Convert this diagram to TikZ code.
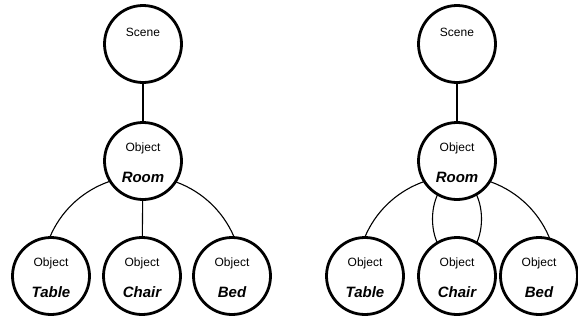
\documentclass[tikz,border=0pt]{standalone}
\usepackage{fontspec}
\setmainfont{Liberation Sans}
\begin{document}
\begin{tikzpicture}[x=1pt,y=-1pt,
  ent/.style={circle,draw=black,line width=2.8pt,fill=white,minimum size=77pt,inner sep=0pt},
  kind/.style={font=\fontsize{12}{12}\selectfont,inner sep=0pt},
  nm/.style={font=\fontsize{15}{15}\selectfont\bfseries\itshape,inner sep=0pt},
  link/.style={line width=1.1pt,draw=black}]
\useasboundingbox (0,0) rectangle (578,322);
% ---- left panel ----
\coordinate (LC) at (142,276);
\draw[link] (LC) ++(200:100) arc[start angle=200,end angle=340,radius=100];
\node[ent] (LScene) at (143,44) {};
\node[ent] (LRoom) at (143,161) {};
\node[ent] (LTable) at (51,276) {};
\node[ent] (LChair) at (142,276) {};
\node[ent] (LBed) at (232,276) {};
\draw[link] (LScene) -- (LRoom);
\draw[link] (LRoom) -- (LChair);
% ---- right panel ----
\coordinate (RC) at (457,276);
\draw[link] (RC) ++(200:100) arc[start angle=200,end angle=340,radius=100];
\coordinate (RLens) at (457,219);
\draw[link] (RLens) ellipse[x radius=24.5,y radius=40];
\node[ent] (RScene) at (457,44) {};
\node[ent] (RRoom) at (457,161) {};
\node[ent] (RTable) at (365,276) {};
\node[ent] (RChair) at (457,276) {};
\node[ent] (RBed) at (539,276) {};
\draw[link] (RScene) -- (RRoom);
% ---- texts ----
\foreach \p in {L,R}{
  \node[kind] (\p SceneT) at ([yshift=12pt]\p Scene.center) {Scene};
  \node[kind] (\p RoomK) at ([yshift=13pt]\p Room.center) {Object};
  \node[nm]   (\p RoomN) at ([yshift=-16pt]\p Room.center) {Room};
  \node[kind] (\p TableK) at ([yshift=13pt]\p Table.center) {Object};
  \node[nm]   (\p TableN) at ([yshift=-16pt]\p Table.center) {Table};
  \node[kind] (\p ChairK) at ([yshift=13pt]\p Chair.center) {Object};
  \node[nm]   (\p ChairN) at ([yshift=-16pt]\p Chair.center) {Chair};
  \node[kind] (\p BedK) at ([yshift=13pt]\p Bed.center) {Object};
  \node[nm]   (\p BedN) at ([yshift=-16pt]\p Bed.center) {Bed};
}
\end{tikzpicture}
\end{document}
